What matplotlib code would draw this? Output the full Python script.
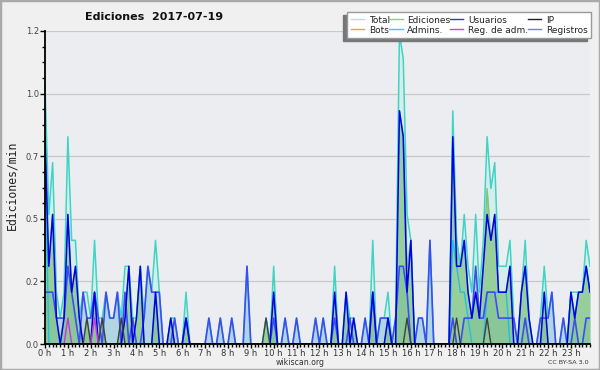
import numpy as np
import matplotlib.pyplot as plt
from matplotlib.lines import Line2D
from matplotlib.patches import Rectangle
from matplotlib.ticker import MultipleLocator, FixedLocator

# counts per 10-minute slot, 144 slots from 00:00 to 23:50
ediciones = [
    8, 3, 5, 1, 0, 1,   # 0 h
    5, 2, 3, 1, 0, 1,   # 1 h
    0, 2, 0, 1, 0, 0,   # 2 h
    0, 0, 1, 1, 3, 0,   # 3 h
    1, 3, 0, 0, 0, 2,   # 4 h
    0, 0, 0, 1, 0, 0,   # 5 h
    0, 1, 0, 0, 0, 0,   # 6 h
    0, 0, 0, 0, 0, 0,   # 7 h
    0, 0, 0, 0, 0, 0,   # 8 h
    0, 0, 0, 0, 1, 0,   # 9 h
    2, 0, 0, 0, 0, 0,   # 10 h
    0, 0, 0, 0, 0, 0,   # 11 h
    0, 0, 0, 0, 2, 0,   # 12 h
    0, 2, 0, 1, 0, 0,   # 13 h
    0, 0, 2, 0, 0, 0,   # 14 h
    1, 0, 0, 9, 8, 3,   # 15 h
    4, 0, 0, 0, 0, 0,   # 16 h
    0, 0, 0, 0, 0, 8,   # 17 h
    4, 3, 4, 2, 1, 2,   # 18 h
    1, 3, 6, 4, 5, 2,   # 19 h
    2, 2, 3, 0, 0, 2,   # 20 h
    3, 1, 0, 0, 0, 2,   # 21 h
    0, 0, 0, 0, 0, 0,   # 22 h
    2, 1, 2, 2, 3, 2,   # 23 h
]
registros = [
    2, 2, 2, 1, 1, 1,
    3, 2, 1, 0, 2, 1,
    1, 2, 1, 0, 2, 1,
    1, 2, 0, 2, 0, 1,
    0, 0, 1, 3, 2, 2,
    2, 0, 0, 0, 1, 0,
    0, 1, 0, 0, 0, 0,
    0, 1, 0, 0, 1, 0,
    0, 1, 0, 0, 0, 3,
    0, 0, 0, 0, 0, 0,
    1, 0, 0, 1, 0, 0,
    1, 0, 0, 0, 0, 1,
    0, 1, 0, 0, 1, 0,
    0, 0, 1, 0, 0, 0,
    1, 0, 2, 0, 1, 1,
    1, 0, 1, 3, 3, 2,
    0, 0, 1, 1, 0, 4,
    0, 0, 0, 0, 0, 1,
    0, 0, 1, 1, 1, 3,
    1, 1, 2, 2, 2, 1,
    1, 1, 1, 1, 0, 0,
    1, 0, 0, 0, 1, 1,
    1, 2, 0, 0, 1, 0,
    0, 1, 0, 0, 1, 1,
]
# sparse series: slot -> count
ip_slots = {11: 1, 15: 1, 20: 1, 58: 1, 95: 1, 108: 1, 116: 1}
admins_slots = {0: 8, 107: 4, 108: 3, 109: 2, 110: 2, 111: 1,
                116: 2, 117: 2, 118: 2, 119: 2, 120: 2, 121: 2,
                138: 2, 139: 1, 140: 2, 141: 2, 142: 3, 143: 2}
regadm_slots = {6: 1, 13: 1}

n = len(ediciones)
ip = np.zeros(n)
admins = np.zeros(n)
regadm = np.zeros(n)
for k, v in ip_slots.items():
    ip[k] = v
for k, v in admins_slots.items():
    admins[k] = v
for k, v in regadm_slots.items():
    regadm[k] = v

# per minute rates
ed = np.array(ediciones) / 10
reg = np.array(registros) / 10
ip = ip / 10
admins = admins / 10
regadm = regadm / 10
bots = np.zeros(n)
usuarios = ed - ip
total = ed + reg

t = np.arange(n) / 6.0

fig = plt.figure(figsize=(6, 3.7), dpi=100)
fig.patch.set_facecolor('#f0f0f0')
ax = fig.add_axes([45 / 600, 26 / 370, 545 / 600, 313 / 370])
ax.set_facecolor('#ecedf0')

ymax = 1.208
ax.set_ylim(0, ymax)
ax.set_xlim(0, t[-1])

yt = np.linspace(0, ymax, 6)
ax.yaxis.set_major_locator(FixedLocator(yt))
ax.yaxis.set_minor_locator(FixedLocator(np.linspace(0, ymax, 21)))
ax.set_yticklabels(['%.1f' % v for v in yt])
ax.grid(axis='y', which='major', color='#c8c8c8', lw=0.9)
ax.set_axisbelow(True)

ax.xaxis.set_major_locator(MultipleLocator(1))
ax.xaxis.set_minor_locator(MultipleLocator(1 / 6))
ax.set_xticks(range(24))
ax.set_xticklabels([str(h) + ' h' for h in range(24)])

ax.tick_params(axis='x', which='major', length=3.2, width=1, labelsize=6, labelcolor='#333333', pad=0.3)
ax.tick_params(axis='x', which='minor', length=2.2, width=1)
ax.tick_params(axis='y', which='major', length=3.5, width=1, labelsize=6, labelcolor='#444444', pad=1)
ax.tick_params(axis='y', which='minor', length=2.2, width=1)
for s in ['top', 'right']:
    ax.spines[s].set_visible(False)
for s in ['left', 'bottom']:
    ax.spines[s].set_linewidth(1.3)
    ax.spines[s].set_zorder(5)

# fills
ax.fill_between(t, total, color='#d4eeec', alpha=0.9, lw=0)
ax.fill_between(t, reg, color='#a9d0e2', alpha=0.8, lw=0)
ax.fill_between(t, ed, color='#74c070', alpha=0.65, lw=0)

ax.plot(t, bots, color='#ff9933', lw=1)
ax.plot(t, ed, color='#80c480', lw=1)
ax.plot(t, total, color='#3fd4c4', lw=1.1)
ax.plot(t, admins, color='#22c0e0', lw=1)
ax.plot(t, reg, color='#3a4ef2', lw=1.2)
ax.plot(t, usuarios, color='#0000e6', lw=1.1)
ax.plot(t, ip, color='#404040', lw=1)
ax.plot(t, regadm, color='#cc33dd', lw=1)

# titles and texts
fig.text(154 / 600, 1 - 17 / 370, 'Ediciones  2017-07-19', ha='center', va='center',
         fontsize=8, fontweight='bold', color='#111111')
fig.text(12 / 600, 1 - 185 / 370, 'Ediciones/min', rotation=90, ha='center', va='center',
         fontsize=8.3, family='DejaVu Sans Mono', color='#222222')
fig.text(300 / 600, 1 - 362.5 / 370, 'wikiscan.org', ha='center', va='center',
         fontsize=5.6, color='#333333')
fig.text(589 / 600, 1 - 362.5 / 370, 'CC BY-SA 3.0', ha='right', va='center',
         fontsize=4.6, color='#333333')

# legend
labels = ['Total', 'Bots', 'Ediciones', 'Admins.', 'Usuarios', 'Reg. de adm.', 'IP', 'Registros']
colors = ['#a8e6e6', '#ff9933', '#88cc88', '#44c8d8', '#3333dd', '#cc44dd', '#222222', '#7777ee']
handles = [Line2D([], [], color=c, lw=1) for c in colors]
leg = fig.legend(handles, labels, ncol=4, loc='upper left', mode='expand',
                 bbox_to_anchor=(347 / 600, 1 - 39 / 370, 244 / 600, 27 / 370),
                 borderaxespad=0, fontsize=6.5, frameon=True, fancybox=False,
                 framealpha=1, edgecolor='#999999', handlelength=1.5,
                 handletextpad=0.5, columnspacing=0.3, labelspacing=0.1,
                 borderpad=0.4)
leg.set_zorder(4)
for txt in leg.get_texts():
    txt.set_color('#222222')

# shadow offset to the lower left of the legend box
fig.canvas.draw()
bb = leg.get_window_extent().transformed(fig.transFigure.inverted())
fig.patches.append(Rectangle((bb.x0 - 4 / 600, bb.y0 - 3 / 370), bb.width, bb.height,
                             transform=fig.transFigure, color='#777777', zorder=3))

fig.patches.append(Rectangle((0, 0), 1, 1, transform=fig.transFigure, fill=False,
                             edgecolor='#aaaaaa', lw=2.5, zorder=10))

fig.savefig('out.png', dpi=100, facecolor=fig.get_facecolor())
